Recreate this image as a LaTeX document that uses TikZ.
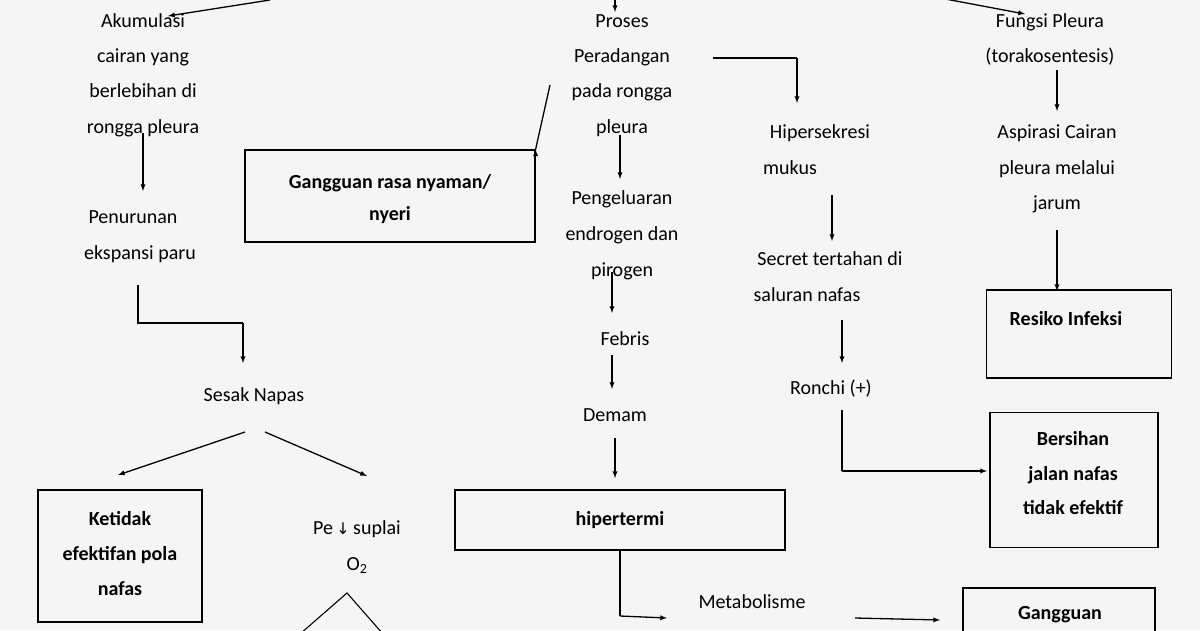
\documentclass[tikz,border=0pt]{standalone}
\usepackage{fontspec}
\setmainfont{Carlito}
\begin{document}
\begin{tikzpicture}[x=1pt,y=-1pt,
  t/.style={font=\fontsize{20}{22}\selectfont,inner sep=0pt,anchor=base},
  b/.style={t,font=\fontsize{20}{22}\selectfont\bfseries},
  box/.style={draw,line width=1.2pt},
  ar/.style={-latex,line width=1.3pt},
  ln/.style={line width=1.1pt}]
\clip (0,0) rectangle (1200,630);
\fill[black!4] (0,0) rectangle (1200,630);
% top arrows
\coordinate (tl0) at (270,0); \coordinate (tl1) at (168,16);
\draw[ar] (tl0) -- (tl1);
\coordinate (tm0) at (615,-5); \coordinate (tm1) at (615,12);
\draw[ar] (tm0) -- (tm1);
\coordinate (tr0) at (940,-2); \coordinate (tr1) at (1025,14);
\draw[ar] (tr0) -- (tr1);
% left column
\node[t] (a1) at (143,27) {Akumulasi};
\node[t] (a2) at (143,62) {cairan yang};
\node[t] (a3) at (143,97) {berlebihan di};
\node[t] (a4) at (143,133) {rongga pleura};
\coordinate (l1a) at (143,133); \coordinate (l1b) at (143,191);
\draw[ar] (l1a) -- (l1b);
\node[t] (p1) at (133,223) {Penurunan};
\node[t] (p2) at (140,259) {ekspansi paru};
\coordinate (l2a) at (138,285); \coordinate (l2b) at (138,323); \coordinate (l2c) at (243,323); \coordinate (l2d) at (243,363);
\draw[ln] (l2a) -- (l2b) -- (l2c);
\draw[ar] (l2c) -- (l2d);
\node[t] (sn) at (254,401) {Sesak Napas};
\coordinate (s1) at (245,432); \coordinate (s2) at (118,475);
\coordinate (s3) at (265,432); \coordinate (s4) at (367,476);
\draw[ar] (s1) -- (s2); \draw[ar] (s3) -- (s4);
\node[box,minimum width=164pt,minimum height=132pt] (kb) at (120,556) {};
\node[b] at (120,525) {Ketidak};
\node[b] at (120,560) {efektifan pola};
\node[b] at (120,595) {nafas};
\node[t] (pe) at (357,534) {Pe\,{\fontspec{DejaVu Sans}\fontsize{16}{18}\selectfont↓}\,suplai};
\node[t] (o2) at (357,570) {O\textsubscript{2}};
\coordinate (tr1a) at (300,634); \coordinate (tr1b) at (347,593); \coordinate (tr1c) at (383,634);
\draw[ln] (tr1a) -- (tr1b) -- (tr1c);
% middle column
\node[t] (m1) at (622,27) {Proses};
\node[t] (m2) at (622,62) {Peradangan};
\node[t] (m3) at (622,97) {pada rongga};
\node[t] (m4) at (622,133) {pleura};
\node[box,minimum width=290pt,minimum height=92pt] (gb) at (390,196) {};
\node[b] at (390,188) {Gangguan rasa nyaman/};
\node[b] at (390,220) {nyeri};
\coordinate (g0) at (550,85);
\draw[ar] (g0) -- (gb.north east) ++(0,0);
\coordinate (h0) at (713,58); \coordinate (h1) at (797,58); \coordinate (h2) at (797,103);
\draw[ln] (h0) -- (h1); \draw[ar] (h1) -- (h2);
\coordinate (m5) at (620,135); \coordinate (m6) at (620,179);
\draw[ar] (m5) -- (m6);
\node[t] at (622,204) {Pengeluaran};
\node[t] at (622,240) {endrogen dan};
\node[t] (pir) at (622,276) {pirogen};
\coordinate (f0) at (612,272); \coordinate (f1) at (612,313);
\draw[ar] (f0) -- (f1);
\node[t] (feb) at (625,345) {Febris};
\coordinate (f2) at (612,355); \coordinate (f3) at (612,389);
\draw[ar] (f2) -- (f3);
\node[t] (dem) at (615,421) {Demam};
\coordinate (f4) at (615,438); \coordinate (f5) at (615,478);
\draw[ar] (f4) -- (f5);
\node[box,minimum width=330pt,minimum height=60pt] (hb) at (620,520) {};
\node[b] at (620,525) {hipertermi};
\coordinate (hm0) at (620,550); \coordinate (hm1) at (620,616); \coordinate (hm2) at (667,618);
\draw[ln] (hm0) -- (hm1); \draw[ar] (hm1) -- (hm2);
\node[t] (met) at (752,608) {Metabolisme};
\coordinate (mt0) at (855,618); \coordinate (mt1) at (940,620);
\draw[ar] (mt0) -- (mt1);
\node[box,minimum width=192pt,minimum height=60pt] (ggb) at (1059,618) {};
\node[b] at (1060,619) {Gangguan};
% right-middle column
\node[t] at (820,138) {Hipersekresi};
\node[t] at (790,174) {mukus};
\coordinate (r0) at (832,195); \coordinate (r1) at (832,241);
\draw[ar] (r0) -- (r1);
\node[t] at (830,265) {Secret tertahan di};
\node[t] at (807,301) {saluran nafas};
\coordinate (r2) at (842,320); \coordinate (r3) at (842,363);
\draw[ar] (r2) -- (r3);
\node[t] at (831,394) {Ronchi (+)};
\coordinate (r4) at (842,410); \coordinate (r5) at (842,471); \coordinate (r6) at (987,471);
\draw[ln] (r4) -- (r5); \draw[ar] (r5) -- (r6);
\node[box,minimum width=168pt,minimum height=135pt] (bb) at (1074,480) {};
\node[b] at (1073,445) {Bersihan};
\node[b] at (1073,480) {jalan nafas};
\node[b] at (1073,514) {tidak efektif};
% right column
\node[t] at (1050,27) {Fungsi Pleura};
\node[t] at (1050,62) {(torakosentesis)};
\coordinate (q0) at (1057,70); \coordinate (q1) at (1057,111);
\draw[ar] (q0) -- (q1);
\node[t] at (1057,138) {Aspirasi Cairan};
\node[t] at (1057,174) {pleura melalui};
\node[t] at (1057,209) {jarum};
\node[box,minimum width=185pt,minimum height=88pt] (rb) at (1079,334) {};
\coordinate (q2) at (1057,230); \coordinate (q3) at (1057,291);
\draw[ar] (q2) -- (q3);
\node[b] at (1066,325) {Resiko Infeksi};
\end{tikzpicture}
\end{document}
